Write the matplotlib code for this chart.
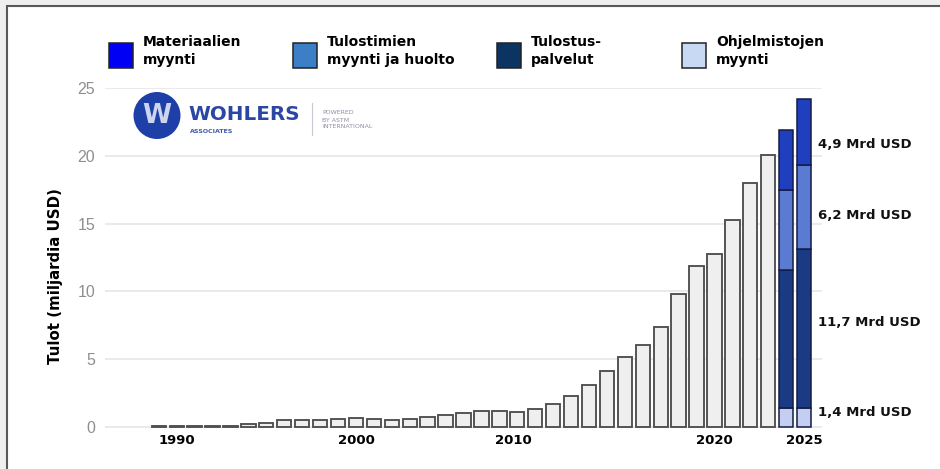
import matplotlib
matplotlib.use('Agg')
import matplotlib.pyplot as plt
from matplotlib.patches import Rectangle, Circle
import numpy as np

# harmaat pylvaat 1989-2023 (mrd USD)
years = list(range(1989, 2024))
revenue = [0.04, 0.05, 0.06, 0.07, 0.10, 0.18, 0.30, 0.48, 0.50, 0.50,
           0.56, 0.66, 0.56, 0.50, 0.55, 0.72, 0.86, 1.00, 1.15, 1.18,
           1.09, 1.33, 1.71, 2.28, 3.07, 4.10, 5.17, 6.06, 7.34, 9.80,
           11.87, 12.76, 15.24, 18.00, 20.04]

# pinotut pylvaat 2024-2025
stack_years = [2024, 2025]
software = [1.4, 1.4]
services = [10.2, 11.7]
printers = [5.9, 6.2]
materials = [4.4, 4.9]

legend_labels = ['Materiaalien\nmyynti', 'Tulostimien\nmyynti ja huolto',
                 'Tulostus-\npalvelut', 'Ohjelmistojen\nmyynti']
legend_colors = ['#0000f5', '#3d7fc6', '#0b3462', '#c8d9f4']
bar_colors = {'materials': '#1f3fbe', 'printers': '#5b7bd3',
              'services': '#1a3a84', 'software': '#c3cef0'}

seg_labels = ['1,4 Mrd USD', '11,7 Mrd USD', '6,2 Mrd USD', '4,9 Mrd USD']
seg_label_y = [1.03, 7.67, 15.56, 20.8]

tick_labels = ['1990', '2000', '2010', '2020', '2025']
tick_pos = [1990, 2000, 2008.8, 2020, 2025]

W, H = 940, 469
fig = plt.figure(figsize=(W / 100, H / 100), dpi=100)
fig.patch.set_facecolor('#efefef')

def px(x, y):
    # pikselit (ylhaalta) -> tuumat kuvan alakulmasta
    return (x / 100, (H - y) / 100)

T = fig.dpi_scale_trans
frame = Rectangle(px(7, H + 20), 10, (H - 6 + 20) / 100, transform=T,
                  facecolor='white', edgecolor='#595959', lw=1.5, zorder=-5)
fig.patches.append(frame)

ax = fig.add_axes([105 / W, 1 - 431 / H, 717 / W, (431 - 88) / H])
ax.set_zorder(2)
ax.set_facecolor('none')
ax.set_xlim(1986, 2026)
ax.set_ylim(-0.3, 25)
for s in ax.spines.values():
    s.set_visible(False)
ax.set_yticks([0, 5, 10, 15, 20, 25])
ax.yaxis.grid(True, color='#e6e6e6', lw=1.2)
ax.set_axisbelow(True)
ax.tick_params(axis='y', length=0, pad=7, labelsize=11.5, labelcolor='#8f8f8f')
ax.tick_params(axis='x', length=0, pad=2.5)
for lab in ax.get_yticklabels():
    lab.set_fontfamily('Liberation Sans')
ax.set_xticks(tick_pos)
ax.set_xticklabels(tick_labels, fontweight='bold', fontsize=9.5)

ax.bar(years, revenue, width=0.8, color='#efefef', edgecolor='#4f4f4f', lw=1.35)

bottom = np.zeros(2)
for key, vals in [('software', software), ('services', services),
                  ('printers', printers), ('materials', materials)]:
    ax.bar(stack_years, vals, bottom=bottom, width=0.82, color=bar_colors[key],
           edgecolor='#141c45', lw=1.1)
    bottom += np.array(vals)

for lab, yv in zip(seg_labels, seg_label_y):
    ax.text(2025.77, yv, lab, ha='left', va='center', fontsize=9.5,
            fontweight='bold', color='#111111', clip_on=False)

fig.text(56 / W, 1 - 276 / H, 'Tulot (miljardia USD)', rotation=90,
         ha='center', va='center', fontsize=10.8, fontweight='bold')

# selite
hx = [109, 293, 497, 682]
for x, lab, c in zip(hx, legend_labels, legend_colors):
    fig.patches.append(Rectangle(px(x, 68), 0.24, 0.25, transform=T,
                                 facecolor=c, edgecolor='#222222', lw=1.1))
    fig.text((x + 34) / W, 1 - 51 / H, lab, ha='left', va='center',
             fontsize=10, fontweight='bold', linespacing=1.3)

# Wohlers-logo
fig.patches.append(Circle(px(157, 115.5), 0.235, transform=T,
                          facecolor='#1f3fa8', edgecolor='none'))
fig.text(157 / W, 1 - 116 / H, 'W', ha='center', va='center', fontsize=19,
         fontweight='bold', color='#cdd4ee')
fig.text(188 / W, 1 - 115 / H, 'WOHLERS', ha='left', va='center',
         fontsize=14.3, fontweight='bold', color='#2b47a3')
fig.text(190 / W, 1 - 131 / H, 'ASSOCIATES', ha='left', va='center',
         fontsize=4.5, fontweight='bold', color='#3d57ad')
fig.lines.append(plt.Line2D([312 / 100, 312 / 100], [(H - 103) / 100, (H - 135) / 100],
                            transform=T, color='#c8c8d2', lw=0.8))
fig.text(322 / W, 1 - 120 / H, 'POWERED\nBY ASTM\nINTERNATIONAL', ha='left',
         va='center', fontsize=4.5, color='#8e8ea8', linespacing=1.5)

fig.savefig('out.png', dpi=100, facecolor=fig.get_facecolor())
